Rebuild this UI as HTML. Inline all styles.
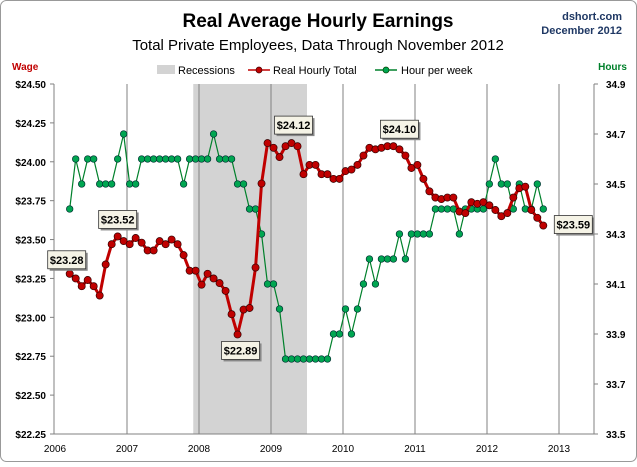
<!DOCTYPE html>
<html><head><meta charset="utf-8">
<style>
body{margin:0;background:#fff;}
#wrap{position:relative;width:637px;height:462px;font-family:"Liberation Sans",sans-serif;}
svg text{font-family:"Liberation Sans",sans-serif;}
</style></head>
<body>
<div id="wrap">
<svg id="chart" width="637" height="462">
  <rect x="0.5" y="0.5" width="636" height="461" rx="6" fill="#fff" stroke="#999"/>
  <text x="318" y="27" text-anchor="middle" font-size="19" font-weight="bold" fill="#000">Real Average Hourly Earnings</text>
  <text x="318" y="50" text-anchor="middle" font-size="15" fill="#000">Total Private Employees, Data Through November 2012</text>
  <text x="622" y="20" text-anchor="end" font-size="11" font-weight="bold" fill="#1f3864">dshort.com</text>
  <text x="622" y="34" text-anchor="end" font-size="11" font-weight="bold" fill="#1f3864">December 2012</text>
  <text x="12" y="70" font-size="10" font-weight="bold" fill="#c00000">Wage</text>
  <text x="627" y="70" text-anchor="end" font-size="10" font-weight="bold" fill="#00802b">Hours</text>
  <g>
    <rect x="157" y="65" width="18" height="9" fill="#d3d3d3"/>
    <text x="178" y="74" font-size="11" fill="#000">Recessions</text>
    <line x1="248" y1="70" x2="270" y2="70" stroke="#c00000" stroke-width="1.5"/>
    <circle cx="259" cy="70" r="3" fill="#c00000" stroke="#400" stroke-width="0.7"/>
    <text x="273" y="74" font-size="11" fill="#000">Real Hourly Total</text>
    <line x1="375" y1="70" x2="397" y2="70" stroke="#00802b" stroke-width="1.5"/>
    <circle cx="386" cy="70" r="3" fill="#00a651" stroke="#040" stroke-width="0.7"/>
    <text x="401" y="74" font-size="11" fill="#000">Hour per week</text>
  </g>
  <g id="plot"></g>
</svg>
</div>
<script>
const wages = [23.28,23.25,23.20,23.24,23.20,23.14,23.34,23.47,23.52,23.49,23.47,23.51,23.48,23.43,23.43,23.49,23.47,23.50,23.47,23.40,23.30,23.30,23.21,23.28,23.25,23.22,23.17,23.02,22.89,23.05,23.06,23.32,23.86,24.12,24.09,24.03,24.10,24.12,24.10,23.92,23.98,23.98,23.92,23.92,
23.89,23.89,23.94,23.95,23.98,24.04,24.09,24.08,24.09,24.10,24.10,24.08,24.04,23.96,23.98,23.89,23.81,23.77,23.76,23.77,23.77,23.68,23.67,23.74,23.73,23.74,23.72,23.69,23.65,23.67,23.77,23.83,23.84,23.69,23.64,23.59];
const hours = [34.4,34.6,34.5,34.6,34.6,34.5,34.5,34.5,34.6,34.7,34.5,34.5,34.6,34.6,34.6,34.6,34.6,34.6,34.6,34.5,34.6,34.6,34.6,34.6,34.7,34.6,34.6,34.6,34.5,34.5,34.4,34.4,34.3,34.1,34.1,34.0,33.8,33.8,33.8,33.8,33.8,33.8,33.8,33.8,
33.9,33.9,34.0,33.9,34.0,34.1,34.2,34.1,34.2,34.2,34.2,34.3,34.2,34.3,34.3,34.3,34.3,34.4,34.4,34.4,34.4,34.3,34.4,34.4,34.4,34.4,34.5,34.6,34.5,34.5,34.4,34.5,34.4,34.4,34.5,34.4];
const wageTicks = [24.50,24.25,24.00,23.75,23.50,23.25,23.00,22.75,22.50,22.25];
const hourTicks = [34.9,34.7,34.5,34.3,34.1,33.9,33.7,33.5];
const years = [2006,2007,2008,2009,2010,2011,2012,2013];
const recession = [2007.92, 2009.5];
const callouts = [[0,"$23.28"],[8,"$23.52"],[28,"$22.89"],[33,"$24.12"],[53,"$24.10"],[79,"$23.59"]];
const calloutOffsets = [[-3,-14],[0,-17],[3,16],[26,-18],[12,-17],[30,-1]];

const L=54,R=594,T=84,B=434;
const yW = v => T + (24.50 - v) * (B - T) / 2.25;
const yH = v => T + (34.9 - v) * (B - T) / 1.4;
const xYear = y => 55 + (y - 2006) * 72;
const xI = i => 69.7 + i * (543.3 - 69.7) / (wages.length - 1);
const NS="http://www.w3.org/2000/svg";
const plot=document.getElementById('plot');
function mk(tag, attrs, parent){const e=document.createElementNS(NS,tag);for(const k in attrs)e.setAttribute(k,attrs[k]);(parent||plot).appendChild(e);return e;}

const rec=mk('rect',{x:xYear(recession[0]),y:T,width:xYear(recession[1])-xYear(recession[0]),height:B-T,fill:'#d3d3d3'});



years.forEach((y,k)=>{
  const x=xYear(y);
  if(k>0){const g=mk('line',{x1:x,y1:T,x2:x,y2:B,stroke:'#808080','stroke-width':1});
  
  }
  const t=mk('text',{x:x,y:452,'text-anchor':'middle','font-size':10,fill:'#000'});t.textContent=y;
  
  
});
const ax=mk('path',{d:`M${L} ${T}V${B}H${R}V${T}`,stroke:'#808080',fill:'none'});


wageTicks.forEach(v=>{
  const y=yW(v);
  const tk=mk('line',{x1:L-4,y1:y,x2:L,y2:y,stroke:'#808080'});
  
  
  const t=mk('text',{x:L-8,y:y+4,'text-anchor':'end','font-size':10,'font-weight':'bold',fill:'#000'});t.textContent='$'+v.toFixed(2);
  
  
});
hourTicks.forEach(v=>{
  const y=yH(v);
  const tk=mk('line',{x1:R,y1:y,x2:R+4,y2:y,stroke:'#808080'});
  
  
  const t=mk('text',{x:R+12,y:y+4,'font-size':10,'font-weight':'bold',fill:'#000'});t.textContent=v.toFixed(1);
  
  
});

const hl=mk('polyline',{points:hours.map((v,i)=>xI(i)+','+yH(v)).join(' '),fill:'none',stroke:'#00802b','stroke-width':1.2});


hours.forEach((v,i)=>{const c=mk('circle',{cx:xI(i),cy:yH(v),r:3.3,fill:'#00a651',stroke:'#033','stroke-width':0.7});
  
  });
const wl=mk('polyline',{points:wages.map((v,i)=>xI(i)+','+yW(v)).join(' '),fill:'none',stroke:'#c00000','stroke-width':3,'stroke-linejoin':'round'});


wages.forEach((v,i)=>{const c=mk('circle',{cx:xI(i),cy:yW(v),r:3.6,fill:'#c00000',stroke:'#300','stroke-width':0.7});
  
  });

callouts.forEach(([i,txt],k)=>{
  const cx=xI(i)+calloutOffsets[k][0], cy=yW(wages[i])+calloutOffsets[k][1];
  const s=mk('rect',{x:cx-19+2,y:cy-9+2,width:38,height:18,fill:'#888'});
  
  
  const r=mk('rect',{x:cx-19,y:cy-9,width:38,height:18,fill:'#f5f3e6',stroke:'#333','stroke-width':0.8});
  
  
  const t=mk('text',{x:cx,y:cy+4,'text-anchor':'middle','font-size':11,'font-weight':'bold',fill:'#000'});t.textContent=txt;
  
  
});
</script>
</body></html>
